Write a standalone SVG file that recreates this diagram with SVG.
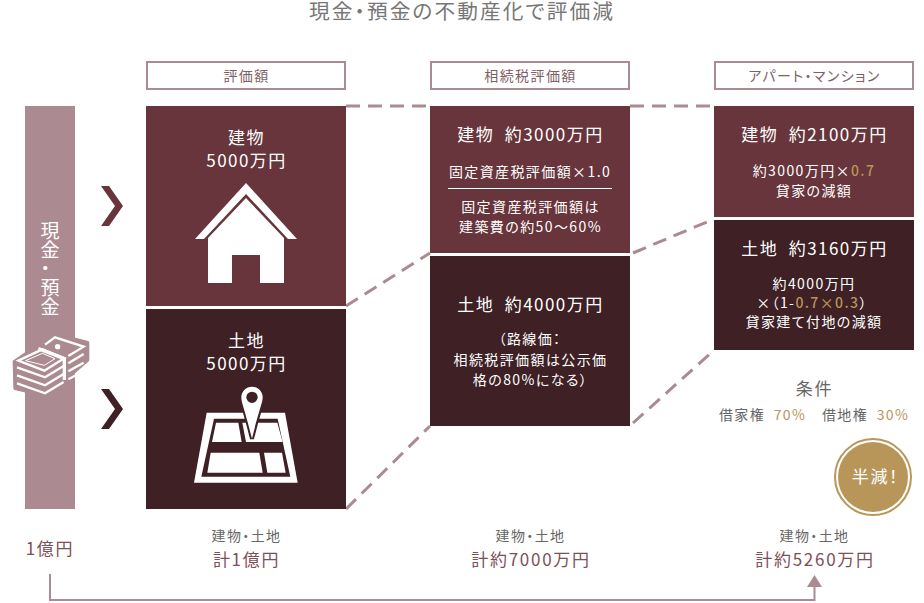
<svg xmlns="http://www.w3.org/2000/svg" width="924" height="603" viewBox="0 0 924 603">
<defs><style>
text{font-family:"Noto Sans CJK JP","Noto Sans",sans-serif;font-weight:400;font-feature-settings:"palt";letter-spacing:.1em;text-anchor:middle}
.w{fill:#fff}.h{font-size:17px;letter-spacing:.085em}.s{font-size:14px}
.hd{fill:#7d5f66;font-size:14px}
.hb{fill:#fff;stroke:#ab8a91;stroke-width:2}
.a{fill:#67353b}.b{fill:#3e2025}
.g{fill:#666}.t{fill:#7d4f57;font-size:17px}
.au{fill:#b8965a}
tspan.au{font-weight:500}
.dash{fill:none;stroke:#ab8a91;stroke-width:3;stroke-dasharray:14 8}
</style></defs>
<rect width="924" height="603" fill="#fff"/>
<text x="462" y="19" font-size="20.700" fill="#777">現金・預金の不動産化で評価減</text>
<g id="connectors">
<path class="dash" d="M346 106H430M630 106H714M346 306L430 253M633 253L714 219M346 509L430 426M633 423L712 352"/>
<path d="M50 574V600H814.500V586" fill="none" stroke="#ab8a91" stroke-width="2"/>
<path d="M814.500 575L822 587H807Z" fill="#ab8a91"/>
</g>
<g id="header-1"><rect class="hb" x="147" y="62" width="198" height="27"/><text class="hd" x="246.500" y="81">評価額</text></g>
<g id="header-2"><rect class="hb" x="431" y="62" width="198" height="27"/><text class="hd" x="530.500" y="81">相続税評価額</text></g>
<g id="header-3"><rect class="hb" x="715" y="62" width="198" height="27"/><text class="hd" x="814.500" y="81">アパート・マンション</text></g>
<g id="cash">
<rect x="25" y="106" width="50" height="403" fill="#ab8a91"/>
<text class="w" x="50" y="269" font-size="19" style="writing-mode:vertical-rl;letter-spacing:0">現金・預金</text>
<g transform="translate(5 330) scale(.3333)">
<path d="M150 12L248 38V90L125 198L30 175L28 95Z" fill="#ab8a91" stroke="#ab8a91" stroke-width="10" stroke-linejoin="round"/>
<g fill="none" stroke="#fff" stroke-width="7">
<path d="M40 92L112 58L178 85L118 122Z"/>
<path d="M62 92L112 70L150 86L118 106Z" stroke-width="3"/>
<path d="M120 44L150 22L236 50L190 78"/>
<path d="M36 112L120 142L176 108M36 136L120 166L176 132M36 160L120 190L176 156"/>
<path d="M190 100L236 72M190 124L236 98M190 148L236 124"/>
<path d="M100 56L178 86V150" stroke-width="10"/>
</g>
<circle cx="158" cy="50" r="8" fill="#fff"/>
</g>
</g>
<g id="chevrons">
<path class="a" d="M101 186H109L123 206L109 226H101L115 206Z"/>
<path class="b" d="M101 389H109L123 409L109 429H101L115 409Z"/>
</g>
<g id="building-1">
<rect class="a" x="146" y="106" width="200" height="200"/>
<text class="w h" x="246.500" y="144">建物</text>
<text class="w h" x="246.500" y="167">5000万円</text>
<path class="w" d="M246 183L297 239H288L246 194L204 239H195Z"/>
<path class="w" d="M246 198L284 238V283H260V255H232V283H208V238Z"/>
</g>
<g id="land-1">
<rect class="b" x="146" y="309" width="200" height="200"/>
<text class="w h" x="246.500" y="347">土地</text>
<text class="w h" x="246.500" y="370">5000万円</text>
<g transform="translate(190 382) scale(.3333)">
<path class="w" fill-rule="evenodd" d="M50 92H285L323 302H12ZM72 110L34 284H301L263 110Z"/>
<path class="w" d="M78 122H145L155 180H66ZM157 122H262L278 180H168ZM62 212H208L218 272H52ZM222 212H276L287 272H232Z"/>
<path d="M154 46A32 32 0 0 1 218 46C218 62 210 74 186 170C162 74 154 62 154 46Z" fill="#fff" stroke="#3e2025" stroke-width="12" paint-order="stroke"/>
<circle class="b" cx="186" cy="46" r="17"/>
</g>
</g>
<g id="building-2">
<rect class="a" x="430" y="106" width="200" height="147"/>
<text class="w h" x="530.500" y="141" xml:space="preserve">建物  約3000万円</text>
<text class="w s" x="530" y="177">固定資産税評価額×1.0</text>
<rect x="448" y="188" width="164" height="1" fill="#fff"/>
<text class="w s" x="530.500" y="212">固定資産税評価額は</text>
<text class="w s" x="530.500" y="232">建築費の約50～60%</text>
</g>
<g id="land-2">
<rect class="b" x="430" y="256" width="200" height="170"/>
<text class="w h" x="530.500" y="311" xml:space="preserve">土地  約4000万円</text>
<text class="w s" x="530" y="344">（路線価：</text>
<text class="w s" x="530.500" y="365">相続税評価額は公示価</text>
<text class="w s" x="530.500" y="385">格の80%になる）</text>
</g>
<g id="building-3">
<rect class="a" x="714" y="106" width="200" height="111"/>
<text class="w h" x="814.500" y="141" xml:space="preserve">建物  約2100万円</text>
<text class="w s" x="814" y="176">約3000万円×<tspan class="au">0.7</tspan></text>
<text class="w s" x="814" y="196">貸家の減額</text>
</g>
<g id="land-3">
<rect class="b" x="714" y="220" width="200" height="130"/>
<text class="w h" x="814.500" y="255" xml:space="preserve">土地  約3160万円</text>
<text class="w s" x="814" y="289">約4000万円</text>
<text class="w s" x="812" y="308">×（1-<tspan class="au">0.7×0.3</tspan>）</text>
<text class="w s" x="814" y="327">貸家建て付地の減額</text>
</g>
<g id="conditions">
<text class="g" x="814.500" y="395" font-size="17">条件</text>
<text class="g s" x="742" y="420">借家権</text>
<text class="au s" x="790" y="420">70%</text>
<text class="g s" x="845" y="420">借地権</text>
<text class="au s" x="893" y="420">30%</text>
</g>
<g id="badge">
<circle cx="873" cy="477" r="38" fill="#fff" stroke="#b8965a" stroke-width="2"/>
<circle class="au" cx="873" cy="477" r="35"/>
<text class="w" x="875.500" y="483" font-size="17">半減！</text>
</g>
<g id="total-0"><text class="t" x="50" y="555">1億円</text></g>
<g id="total-1"><text class="g s" x="246.500" y="541">建物・土地</text><text class="t" x="246.500" y="566">計1億円</text></g>
<g id="total-2"><text class="g s" x="530.500" y="541">建物・土地</text><text class="t" x="531" y="566">計約7000万円</text></g>
<g id="total-3"><text class="g s" x="814.500" y="541">建物・土地</text><text class="t" x="815" y="566">計約5260万円</text></g>
</svg>
